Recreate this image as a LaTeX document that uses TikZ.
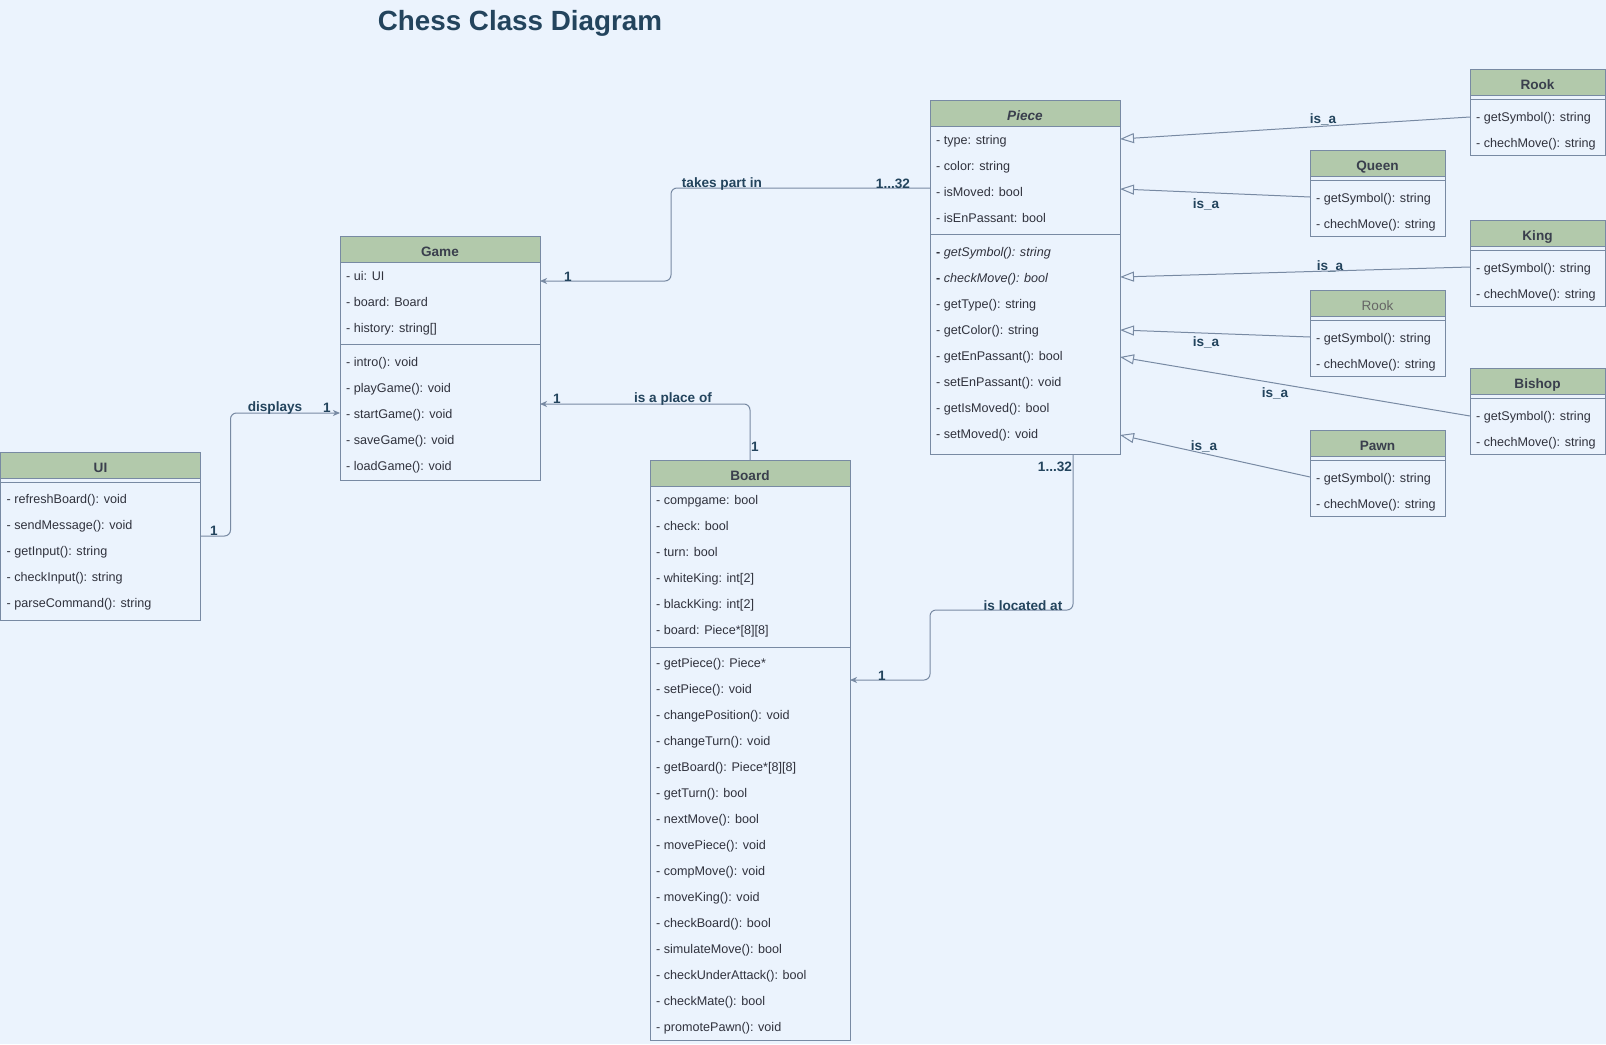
\documentclass[tikz,border=0pt]{standalone}
\usepackage{fontspec}
\setmainfont{Liberation Sans}
\usetikzlibrary{calc,arrows.meta}
\definecolor{bgc}{RGB}{235,243,253}
\definecolor{hdrc}{HTML}{B2C9AB}
\definecolor{bordc}{HTML}{788AA3}
\definecolor{txtc}{HTML}{30323D}
\definecolor{hdtxt}{HTML}{3A3F4D}
\definecolor{lblc}{HTML}{23445D}
\definecolor{grayt}{HTML}{666666}
\tikzset{
 clsbox/.style={draw=bordc, line width=1pt, fill=bgc, anchor=north west, inner sep=0pt, outer sep=0pt},
 clshdr/.style={draw=bordc, line width=1pt, fill=hdrc, anchor=north west, inner sep=0pt, outer sep=0pt, minimum height=26pt, text height=14pt, text depth=0pt, font=\fontsize{13.6}{16}\selectfont\bfseries, text=hdtxt},
 member/.style={anchor=base west, inner sep=0pt, font=\fontsize{12.6}{15}\selectfont, text=txtc},
 seprule/.style={draw=bordc, line width=1pt},
 assoc/.style={draw=bordc, line width=1pt, rounded corners=6pt, -{Stealth[length=7pt,width=6pt,inset=2pt]}},
 isa/.style={draw=bordc, line width=1pt, -{Triangle[open,length=14pt,width=10pt,fill=bgc]}},
 lbl/.style={inner sep=0pt, yshift=-1.5pt, font=\fontsize{13.6}{16}\selectfont\bfseries, text=lblc},
}
\newcommand\smallcls[4]{%
 \node[clsbox, minimum width=135pt, minimum height=86pt] (#1) at (#2,#3) {};
 \node[clshdr, minimum width=135pt] (#1h) at (#1.north west) {#4};
 \draw[seprule] ($(#1.north west)+(0,30)$) -- ($(#1.north east)+(0,30)$);
 \node[member] (#1a) at ($(#1.north west)+(6,52.5)$) {- getSymbol(): string};
 \node[member] (#1b) at ($(#1.north west)+(6,78.5)$) {- chechMove(): string};
}
\begin{document}
\begin{tikzpicture}[x=1pt,y=-1pt]
\fill[bgc] (0,0) rectangle (1606,1044);
\useasboundingbox (0,0) rectangle (1606,1044);

\node[font=\fontsize{27.8}{32}\selectfont\bfseries, text=lblc, anchor=base, inner sep=0pt] (title) at (520,30) {Chess Class Diagram};

% UI
\node[clsbox, minimum width=200pt, minimum height=168pt] (ui) at (0.5,452) {};
\node[clshdr, minimum width=200pt] (uih) at (ui.north west) {UI};
\draw[seprule] ($(ui.north west)+(0,30)$) -- ($(ui.north east)+(0,30)$);
\foreach \t [count=\i from 0] in {- refreshBoard(): void, - sendMessage(): void, - getInput(): string, - checkInput(): string, - parseCommand(): string}
  \node[member] (ui-m\i) at ($(ui.north west)+(6,51.5+26*\i)$) {\t};

% Game
\node[clsbox, minimum width=200pt, minimum height=244pt] (game) at (340,236) {};
\node[clshdr, minimum width=200pt] (gameh) at (game.north west) {Game};
\draw[seprule] ($(game.north west)+(0,108)$) -- ($(game.north east)+(0,108)$);
\foreach \t [count=\i from 0] in {- ui: UI, - board: Board, - history: string[]}
  \node[member] (game-a\i) at ($(game.north west)+(6,44.5+26*\i)$) {\t};
\foreach \t [count=\i from 0] in {- intro(): void, - playGame(): void, - startGame(): void, - saveGame(): void, - loadGame(): void}
  \node[member] (game-m\i) at ($(game.north west)+(6,130.5+26*\i)$) {\t};

% Board
\node[clsbox, minimum width=200pt, minimum height=580pt] (board) at (650,460) {};
\node[clshdr, minimum width=200pt] (boardh) at (board.north west) {Board};
\draw[seprule] ($(board.north west)+(0,187)$) -- ($(board.north east)+(0,187)$);
\foreach \t [count=\i from 0] in {- compgame: bool, - check: bool, - turn: bool, - whiteKing: int[2], - blackKing: int[2], - board: Piece*[8][8]}
  \node[member] (board-a\i) at ($(board.north west)+(6,44.5+26*\i)$) {\t};
\foreach \t [count=\i from 0] in {- getPiece(): Piece*, - setPiece(): void, - changePosition(): void, - changeTurn(): void, - getBoard(): Piece*[8][8], - getTurn(): bool, - nextMove(): bool, - movePiece(): void, - compMove(): void, - moveKing(): void, - checkBoard(): bool, - simulateMove(): bool, - checkUnderAttack(): bool, - checkMate(): bool, - promotePawn(): void}
  \node[member] (board-m\i) at ($(board.north west)+(6,207.5+26*\i)$) {\t};

% Piece
\node[clsbox, minimum width=190pt, minimum height=354pt] (piece) at (930,100) {};
\node[clshdr, minimum width=190pt] (pieceh) at (piece.north west) {\itshape Piece};
\draw[seprule] ($(piece.north west)+(0,134)$) -- ($(piece.north east)+(0,134)$);
\foreach \t [count=\i from 0] in {- type: string, - color: string, - isMoved: bool, - isEnPassant: bool}
  \node[member] (piece-a\i) at ($(piece.north west)+(6,44.5+26*\i)$) {\t};
\foreach \t [count=\i from 0] in {{\textbf{-} \itshape getSymbol(): string}, {\textbf{-} \itshape checkMove(): bool}, - getType(): string, - getColor(): string, - getEnPassant(): bool, - setEnPassant(): void, - getIsMoved(): bool, - setMoved(): void}
  \node[member] (piece-m\i) at ($(piece.north west)+(6,156.5+26*\i)$) {\t};

% subclasses
\smallcls{rookA}{1470}{69}{Rook}
\smallcls{queen}{1310}{150}{Queen}
\smallcls{king}{1470}{220}{King}
\smallcls{rookB}{1310}{290}{\mdseries\color{grayt}Rook}
\smallcls{bishop}{1470}{368}{Bishop}
\smallcls{pawn}{1310}{430}{Pawn}

% associations
\draw[assoc] ($(ui.north east)+(0,84)$) -- ++(30,0) |- ($(game.north west)+(0,177)$);
\node[lbl] (l-disp) at (275,406) {displays};
\node[lbl] (l-disp1) at (327,406) {1};
\node[lbl] (l-disp2) at (214,529) {1};

\draw[assoc] (board.north) |- ($(game.north east)+(0,168)$);
\node[lbl] (l-place) at (673,397) {is a place of};
\node[lbl] (l-place1) at (557,397) {1};
\node[lbl] (l-place2) at (755,445) {1};

\draw[assoc] ($(piece.north west)+(0,88)$) -- ++(-259,0) |- ($(game.north east)+(0,45)$);
\node[lbl] (l-take) at (722,182) {takes part in};
\node[lbl] (l-take1) at (893,182) {1...32};
\node[lbl] (l-take2) at (568,275) {1};

\draw[assoc] ($(piece.south west)+(143,0)$) -- ++(0,156) -- ++(-143,0) |- ($(board.north east)+(0,220)$);
\node[lbl] (l-loc) at (1023,604) {is located at};
\node[lbl] (l-loc1) at (1055,465) {1...32};
\node[lbl] (l-loc2) at (882,674) {1};

% inheritance
\draw[isa] ($(rookA.north west)+(0,48)$) -- ($(piece.north east)+(0,39)$);
\draw[isa] ($(queen.north west)+(0,47)$) -- ($(piece.north east)+(0,89)$);
\draw[isa] ($(king.north west)+(0,47)$) -- ($(piece.north east)+(0,177)$);
\draw[isa] ($(rookB.north west)+(0,47)$) -- ($(piece.north east)+(0,230)$);
\draw[isa] ($(bishop.north west)+(0,48)$) -- ($(piece.north east)+(0,257)$);
\draw[isa] ($(pawn.north west)+(0,47)$) -- ($(piece.north east)+(0,335)$);
\node[lbl] (l-isa1) at (1323,118) {is\_a};
\node[lbl] (l-isa2) at (1206,203) {is\_a};
\node[lbl] (l-isa3) at (1330,265) {is\_a};
\node[lbl] (l-isa4) at (1206,341) {is\_a};
\node[lbl] (l-isa5) at (1275,392) {is\_a};
\node[lbl] (l-isa6) at (1204,445) {is\_a};
\end{tikzpicture}
\end{document}
